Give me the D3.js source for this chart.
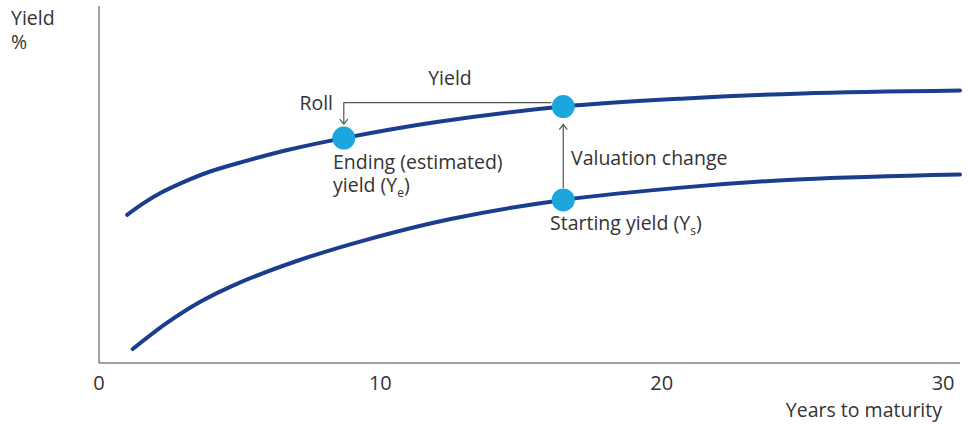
<!DOCTYPE html>
<html>
<head>
<meta charset="utf-8">
<script src="https://cdn.jsdelivr.net/npm/d3@7"></script>
<style>
  html, body { margin: 0; padding: 0; background: #fff; }
  svg { display: block; font-family: "Open Sans", "Noto Sans", sans-serif; }
</style>
</head>
<body>
<svg id="chart" width="968" height="424"></svg>
<script>
// Years to maturity and yields (%) for the two yield curves
const endMaturities = [1.0, 1.6, 2.2, 3.0, 3.9, 5.1, 6.7, 8.7, 12.0, 16.5, 21.0, 25.0, 30.6];
const endingCurve = [2.49, 2.69, 2.86, 3.04, 3.21, 3.38, 3.58, 3.78, 4.05, 4.31, 4.45, 4.53, 4.58];
const startMaturities = [1.2, 2.4, 3.6, 4.8, 7.0, 9.5, 12.5, 16.5, 21.0, 25.0, 30.6];
const startingCurve = [0.235, 0.67, 1.03, 1.31, 1.71, 2.07, 2.42, 2.74, 2.96, 3.09, 3.17];
const xTicks = [0, 10, 20, 30];

// Highlighted points: ending yield (rolled down), current-tenor yield, starting yield
const rollFrom = { t: 16.5, y: 4.31 };
const rollTo = { t: 8.7, y: 3.78 };
const startPoint = { t: 16.5, y: 2.74 };

const svg = d3.select("#chart");
const x = d3.scaleLinear().domain([0, 30.6]).range([99, 960]);
const y = d3.scaleLinear().domain([0, 6]).range([363, 6]);

const textColor = "#333";
const lineColor = "#1b3d8e";
const dotColor = "#1ba7de";
const fs = 19.5;

// Axes (plain lines, no tick marks)
svg.append("line").attr("x1", x(0)).attr("x2", x(0)).attr("y1", y(6)).attr("y2", y(0))
  .attr("stroke", "#444").attr("stroke-width", 1);
svg.append("line").attr("x1", x(0)).attr("x2", x(30.6)).attr("y1", y(0)).attr("y2", y(0))
  .attr("stroke", "#444").attr("stroke-width", 1);

svg.append("g").selectAll("text").data(xTicks).join("text")
  .attr("x", d => x(d)).attr("y", 390)
  .attr("text-anchor", "middle").attr("font-size", 20).attr("fill", textColor)
  .text(d => d);

svg.append("text").attr("x", 942).attr("y", 417).attr("text-anchor", "end")
  .attr("font-size", fs).attr("fill", textColor).text("Years to maturity");

const yl = svg.append("text").attr("font-size", fs).attr("fill", textColor);
yl.append("tspan").attr("x", 11).attr("y", 25).text("Yield");
yl.append("tspan").attr("x", 11).attr("y", 49).text("%");

// Curves
const line = d3.line().x(d => x(d[0])).y(d => y(d[1])).curve(d3.curveCatmullRom.alpha(0.5));
svg.append("path").datum(d3.zip(endMaturities, endingCurve)).attr("d", line)
  .attr("fill", "none").attr("stroke", lineColor).attr("stroke-width", 4).attr("stroke-linecap", "round");
svg.append("path").datum(d3.zip(startMaturities, startingCurve)).attr("d", line)
  .attr("fill", "none").attr("stroke", lineColor).attr("stroke-width", 4).attr("stroke-linecap", "round");

// Arrow connectors
const arrowColor = "#555";
const rollY = y(rollFrom.y) - 4;
svg.append("path")
  .attr("d", `M${x(rollFrom.t) - 12},${rollY} H${x(rollTo.t)} V${y(rollTo.y) - 14}`)
  .attr("fill", "none").attr("stroke", arrowColor).attr("stroke-width", 1.2);
svg.append("path")
  .attr("d", `M${x(rollTo.t) - 4},${y(rollTo.y) - 19} L${x(rollTo.t)},${y(rollTo.y) - 14} L${x(rollTo.t) + 4},${y(rollTo.y) - 19}`)
  .attr("fill", "none").attr("stroke", arrowColor).attr("stroke-width", 1.2);

svg.append("path")
  .attr("d", `M${x(startPoint.t)},${y(startPoint.y) - 12} V${y(rollFrom.y) + 18}`)
  .attr("fill", "none").attr("stroke", arrowColor).attr("stroke-width", 1.2);
svg.append("path")
  .attr("d", `M${x(startPoint.t) - 4},${y(rollFrom.y) + 23} L${x(startPoint.t)},${y(rollFrom.y) + 18} L${x(startPoint.t) + 4},${y(rollFrom.y) + 23}`)
  .attr("fill", "none").attr("stroke", arrowColor).attr("stroke-width", 1.2);

// Dots
svg.append("g").selectAll("circle").data([rollTo, rollFrom, startPoint]).join("circle")
  .attr("cx", d => x(d.t)).attr("cy", d => y(d.y)).attr("r", 11.5).attr("fill", dotColor);

// Annotation labels
svg.append("text").attr("x", 450).attr("y", 85).attr("text-anchor", "middle")
  .attr("font-size", fs).attr("fill", textColor).text("Yield");
svg.append("text").attr("x", 333).attr("y", 110).attr("text-anchor", "end")
  .attr("font-size", fs).attr("fill", textColor).text("Roll");

const ending = svg.append("text").attr("font-size", fs).attr("fill", textColor);
ending.append("tspan").attr("x", 333).attr("y", 169).text("Ending (estimated)");
ending.append("tspan").attr("x", 333).attr("y", 192).text("yield (Y");
ending.append("tspan").attr("font-size", 12).attr("dy", 5).text("e");
ending.append("tspan").attr("dy", -5).text(")");

svg.append("text").attr("x", 571).attr("y", 165)
  .attr("font-size", fs).attr("fill", textColor).text("Valuation change");

const starting = svg.append("text").attr("x", 550).attr("y", 230)
  .attr("font-size", fs).attr("fill", textColor);
starting.append("tspan").text("Starting yield (Y");
starting.append("tspan").attr("font-size", 12).attr("dy", 5).text("s");
starting.append("tspan").attr("dy", -5).text(")");
</script>
</body>
</html>
